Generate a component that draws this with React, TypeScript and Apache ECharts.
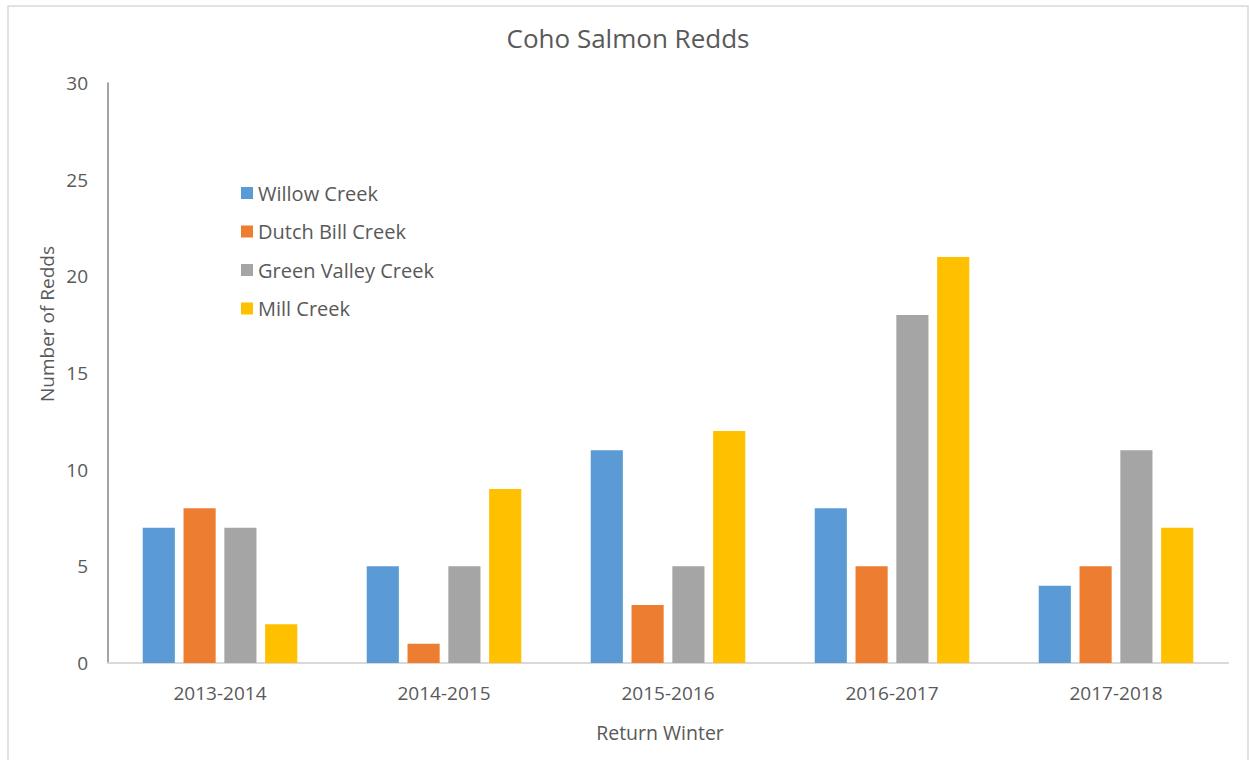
import React, { useEffect, useRef } from "react";
import * as echarts from "echarts";

const categories = ["2013-2014", "2014-2015", "2015-2016", "2016-2017", "2017-2018"];
const seriesNames = ["Willow Creek", "Dutch Bill Creek", "Green Valley Creek", "Mill Creek"];
const willowCreek = [7, 5, 11, 8, 4];
const dutchBillCreek = [8, 1, 3, 5, 5];
const greenValleyCreek = [7, 5, 5, 18, 11];
const millCreek = [2, 9, 12, 21, 7];
const colors = ["#5B9BD5", "#ED7D31", "#A5A5A5", "#FFC000"];
const yTicks = { min: 0, max: 30, interval: 5 };

const FONT = "'Open Sans', sans-serif";
const TEXT = "#595959";

export default function App() {
  const ref = useRef<HTMLDivElement>(null);
  useEffect(() => {
    if (!ref.current) return;
    const chart = echarts.init(ref.current, undefined, { renderer: "svg" });
    const values = [willowCreek, dutchBillCreek, greenValleyCreek, millCreek];
    chart.setOption({
      animation: false,
      backgroundColor: "#ffffff",
      textStyle: { fontFamily: FONT },
      title: {
        text: "Coho Salmon Redds",
        left: 628,
        top: 25,
        padding: 0,
        textAlign: "center",
        textStyle: { fontFamily: FONT, fontSize: 26, fontWeight: "normal", color: TEXT },
      },
      legend: {
        orient: "vertical",
        left: 241,
        top: 183,
        padding: 0,
        icon: "rect",
        itemWidth: 12,
        itemHeight: 12,
        itemGap: 18.5,
        data: seriesNames,
        textStyle: { fontFamily: FONT, fontSize: 20, lineHeight: 20, color: TEXT },
      },
      grid: { left: 108, right: 21, top: 83, bottom: 97, containLabel: false },
      xAxis: {
        type: "category",
        data: categories,
        axisLine: { show: true, lineStyle: { color: "#d9d9d9", width: 2 } },
        axisTick: { show: false },
        axisLabel: { color: TEXT, fontSize: 19, fontFamily: FONT, margin: 20 },
        splitLine: { show: false },
      },
      yAxis: {
        type: "value",
        min: yTicks.min,
        max: yTicks.max,
        interval: yTicks.interval,
        axisLine: { show: true, lineStyle: { color: "#868686", width: 1.5 } },
        axisTick: { show: false },
        axisLabel: { color: TEXT, fontSize: 19, fontFamily: FONT, margin: 20 },
        splitLine: { show: false },
      },
      graphic: [
        {
          type: "rect",
          shape: { x: 8, y: 6, width: 1240, height: 780 },
          style: { fill: "none", stroke: "#d9d9d9", lineWidth: 1.5 },
          silent: true,
        },
        {
          type: "text",
          x: 47,
          y: 324,
          rotation: Math.PI / 2,
          style: {
            text: "Number of Redds",
            fontFamily: FONT,
            fontSize: 19,
            fill: TEXT,
            textAlign: "center",
            textVerticalAlign: "middle",
          },
        },
        {
          type: "text",
          x: 660,
          y: 732,
          style: {
            text: "Return Winter",
            fontFamily: FONT,
            fontSize: 19.5,
            fill: TEXT,
            textAlign: "center",
            textVerticalAlign: "middle",
          },
        },
      ],
      series: seriesNames.map((name, i) => ({
        name,
        type: "bar",
        data: values[i],
        itemStyle: { color: colors[i] },
        barCategoryGap: "31%",
        barGap: "27%",
      })),
    });
    return () => chart.dispose();
  }, []);
  return (
    <div
      ref={ref}
      style={{ position: "fixed", left: 0, top: 0, width: 1249, height: 760 }}
    />
  );
}
